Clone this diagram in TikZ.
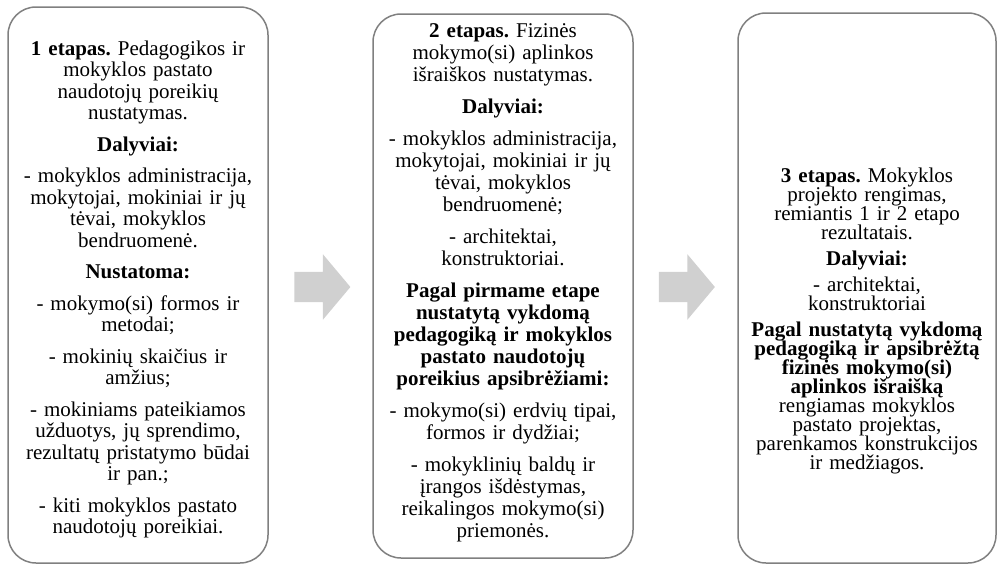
\documentclass[tikz,border=0pt]{standalone}
\usepackage{fontspec}
\setmainfont{Liberation Serif}
\usepackage{xcolor}
\usetikzlibrary{shapes.arrows}

\definecolor{boxgray}{RGB}{128,128,128}
\definecolor{arrowgray}{RGB}{208,208,208}

\begin{document}
\begin{tikzpicture}[
            x = 1pt, y = -1pt, % pixel units
            stage/.style = {draw=boxgray, line width=1.5pt, rounded corners=28pt, minimum width=260pt},
            stagetext/.style = {text width=256pt, align=center, inner sep=0pt, anchor=north,
                font=\fontsize{21}{#1}\selectfont,
                execute at begin node={\lineskiplimit=-100pt\relax\frenchspacing}},
            stagearrow/.style = {single arrow, fill=arrowgray, inner xsep=0pt, inner ysep=15pt,
                minimum height=56pt, single arrow head extend=17.5pt, single arrow tip angle=100}
        ]
\useasboundingbox (0,0) rectangle (997,565);

% boxes
\node[stage, minimum height=556pt] (s1) at (138,285) {};
\node[stage, minimum height=544pt] (s2) at (503,286) {};
\node[stage, minimum width=258pt, minimum height=550pt] (s3) at (867,288) {};

% arrows between the stages
\node[stagearrow] (a1) at (316,287) {};
\node[stagearrow] (a2) at (680.5,287) {};

% texts
\node[stagetext=21.5pt] (t1) at (138,40.5) {%
\textbf{1 etapas.} Pedagogikos ir\\ mokyklos pastato\\ naudotojų poreikių\\ nustatymas.\\[10pt]
\textbf{Dalyviai:}\\[10pt]
- mokyklos administracija,\\ mokytojai, mokiniai ir jų\\ tėvai, mokyklos\\ bendruomenė.\\[10pt]
\textbf{Nustatoma:}\\[10pt]
- mokymo(si) formos ir\\ metodai;\\[10pt]
- mokinių skaičius ir\\ amžius;\\[10pt]
- mokiniams pateikiamos\\ užduotys, jų sprendimo,\\ rezultatų pristatymo būdai\\ ir pan.;\\[10pt]
- kiti mokyklos pastato\\ naudotojų poreikiai.};

\node[stagetext=22pt] (t2) at (503,23.5) {%
\textbf{2 etapas.} Fizinės\\ mokymo(si) aplinkos\\ išraiškos nustatymas.\\[10pt]
\textbf{Dalyviai:}\\[10pt]
- mokyklos administracija,\\ mokytojai, mokiniai ir jų\\ tėvai, mokyklos\\ bendruomenė;\\[10pt]
- architektai,\\ konstruktoriai.\\[10pt]
\textbf{Pagal pirmame etape}\\ \textbf{nustatytą vykdomą}\\ \textbf{pedagogiką ir mokyklos}\\ \textbf{pastato naudotojų}\\ \textbf{poreikius apsibrėžiami:}\\[10pt]
- mokymo(si) erdvių tipai,\\ formos ir dydžiai;\\[10pt]
- mokyklinių baldų ir\\ įrangos išdėstymas,\\ reikalingos mokymo(si)\\ priemonės.};

\node[stagetext=19pt] (t3) at (867,167.5) {%
\textbf{3 etapas.} Mokyklos\\ projekto rengimas,\\ remiantis 1 ir 2 etapo\\ rezultatais.\\[7pt]
\textbf{Dalyviai:}\\[7pt]
- architektai,\\ konstruktoriai\\[7pt]
\textbf{Pagal nustatytą vykdomą}\\ \textbf{pedagogiką ir apsibrėžtą}\\ \textbf{fizinės mokymo(si)}\\ \textbf{aplinkos išraišką}\\ rengiamas mokyklos\\ pastato projektas,\\ parenkamos konstrukcijos\\ ir medžiagos.};
\end{tikzpicture}
\end{document}
